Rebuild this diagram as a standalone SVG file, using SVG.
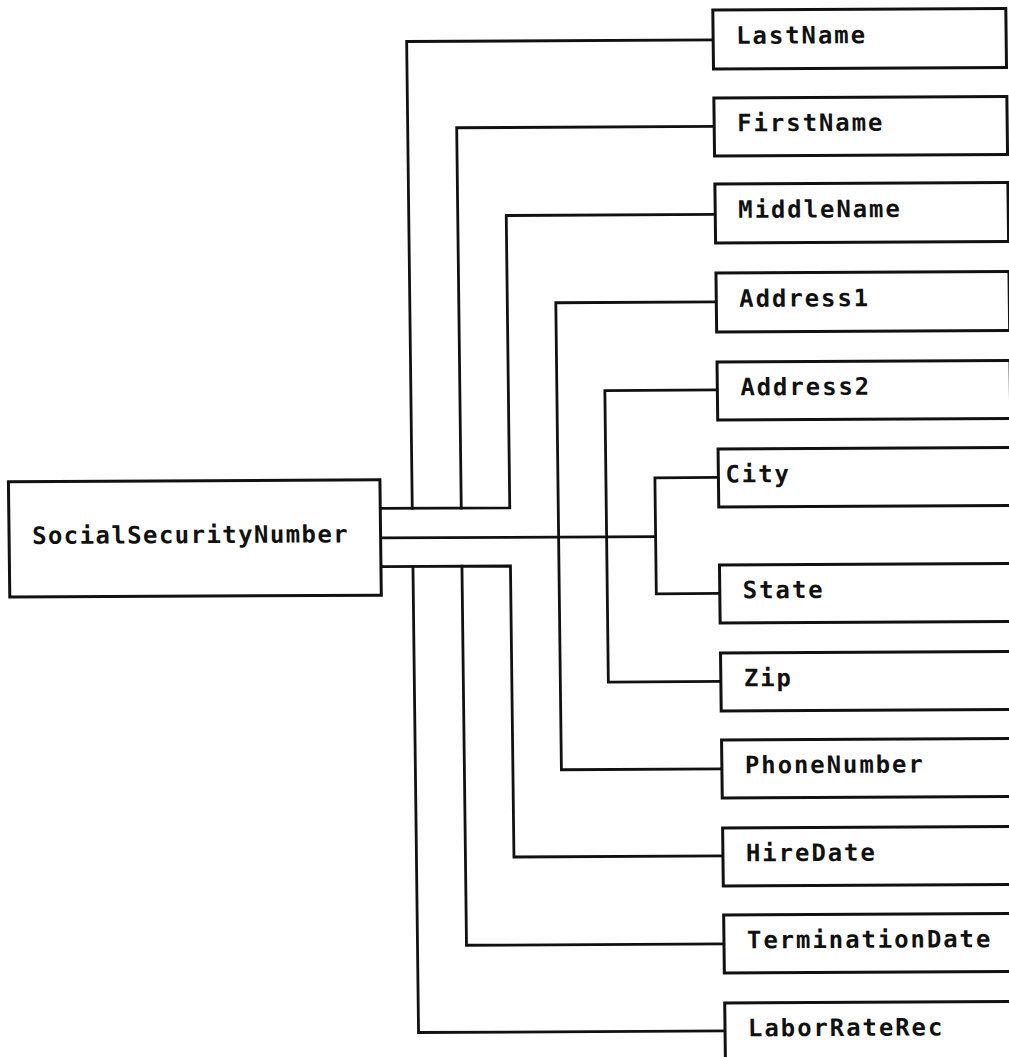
<svg xmlns="http://www.w3.org/2000/svg" width="1009" height="1057" viewBox="0 0 1009 1057">
<style>
.box{fill:#fff;stroke:#111;stroke-width:3}
.ln{fill:none;stroke:#111;stroke-width:2.8;stroke-linejoin:miter;stroke-linecap:square}
.t{font-family:"DejaVu Sans Mono","Liberation Mono",monospace;font-weight:bold;font-size:24px;letter-spacing:1.9px;fill:#111}
.ssn{letter-spacing:1.4px}
</style>
<rect width="1009" height="1057" fill="#fff"/>
<g transform="matrix(1 -0.005 0.012 1 -6.336 2.56)">
<g id="connectors">
<path class="ln" d="M381 507.8H510V215.5H719"/>
<path class="ln" d="M412.5 507.8V41H719"/>
<path class="ln" d="M461.5 507.8V127.5H719"/>
<path class="ln" d="M381 566H510V857H719"/>
<path class="ln" d="M412.5 566V1032H719"/>
<path class="ln" d="M461.5 566V945H719"/>
<path class="ln" d="M381 537.3H655.5"/>
<path class="ln" d="M719 478.5H655.5V594.5H719"/>
<path class="ln" d="M719 391H606.5V682.5H719"/>
<path class="ln" d="M719 303H558.5V770H719"/>
</g>
<g id="ssn"><rect class="box" x="9" y="479.2" width="371.5" height="115.3"/><text class="t ssn" x="32" y="541.5">SocialSecurityNumber</text></g>
<g id="lastname"><rect class="box" x="719" y="11" width="293" height="59"/><text class="t" x="742" y="45">LastName</text></g>
<g id="firstname"><rect class="box" x="719" y="99" width="293" height="58"/><text class="t" x="742" y="132.5">FirstName</text></g>
<g id="middlename"><rect class="box" x="719" y="185" width="293" height="59"/><text class="t" x="742" y="219">MiddleName</text></g>
<g id="address1"><rect class="box" x="719" y="274" width="293" height="59"/><text class="t" x="742" y="308">Address1</text></g>
<g id="address2"><rect class="box" x="719" y="363" width="293" height="58"/><text class="t" x="742" y="396.5">Address2</text></g>
<g id="city"><rect class="box" x="719" y="450" width="293" height="58"/><text class="t" x="726" y="483.5">City</text></g>
<g id="state"><rect class="box" x="719" y="566" width="293" height="58"/><text class="t" x="742" y="599.5">State</text></g>
<g id="zip"><rect class="box" x="719" y="654" width="293" height="58"/><text class="t" x="742" y="687.5">Zip</text></g>
<g id="phonenumber"><rect class="box" x="719" y="741" width="293" height="58"/><text class="t" x="742" y="774.5">PhoneNumber</text></g>
<g id="hiredate"><rect class="box" x="719" y="829" width="293" height="58"/><text class="t" x="742" y="862.5">HireDate</text></g>
<g id="terminationdate"><rect class="box" x="719" y="916" width="293" height="58"/><text class="t" x="742" y="949.5">TerminationDate</text></g>
<g id="laborraterec"><rect class="box" x="719" y="1004" width="293" height="58"/><text class="t" x="742" y="1037.5">LaborRateRec</text></g>
</g>
</svg>
